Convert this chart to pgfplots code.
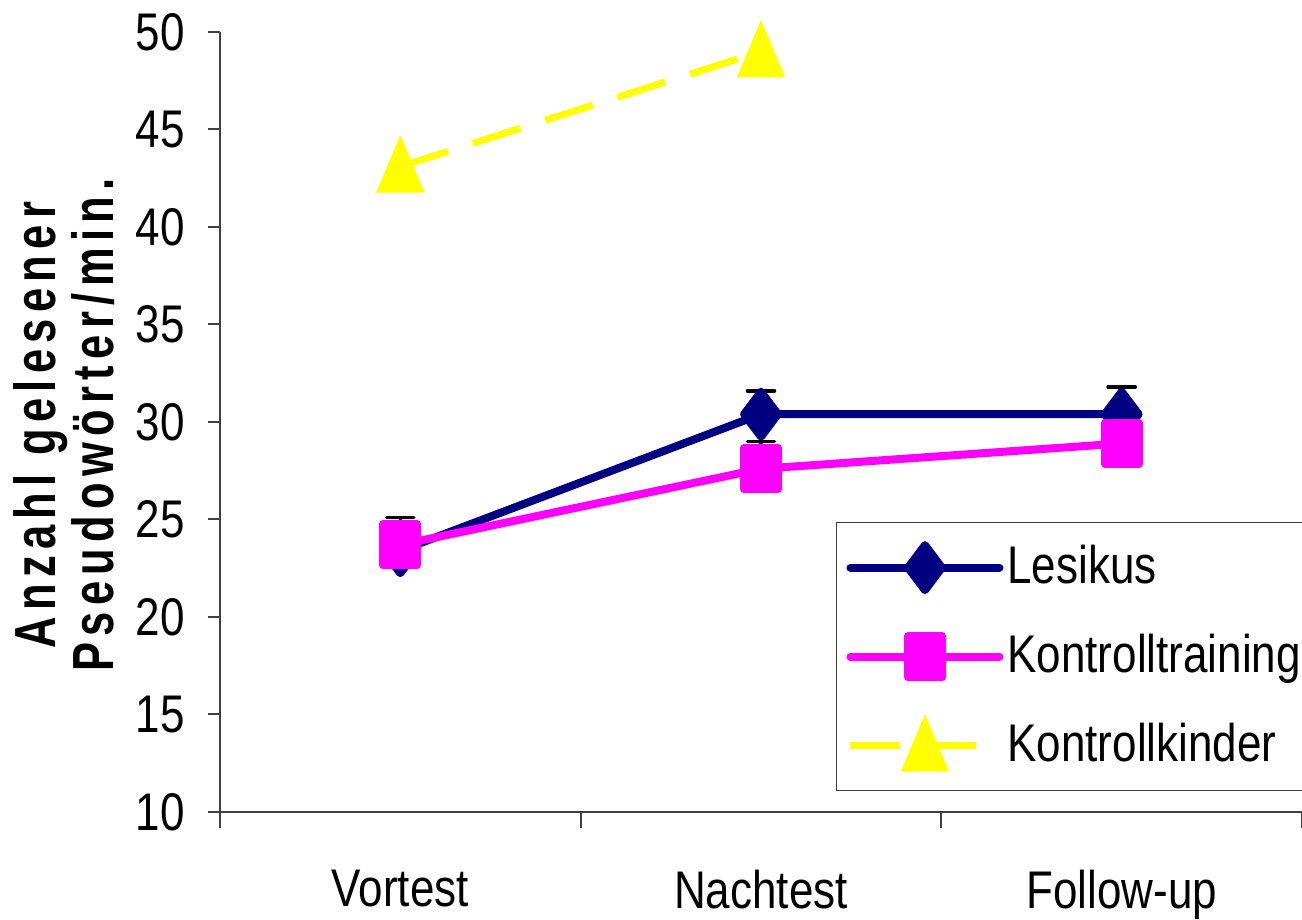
\documentclass[border=0pt]{standalone}
\usepackage{fontspec}
\setmainfont{Liberation Sans}[FakeStretch=0.83]
\newfontfamily\labfont{Liberation Sans}[FakeStretch=0.75,LetterSpace=11]
\usepackage{pgfplots}
\pgfplotsset{compat=1.18}
\definecolor{lesikus}{RGB}{0,0,128}
\definecolor{ktrain}{RGB}{255,0,255}
\definecolor{kkind}{RGB}{255,255,0}
\definecolor{axgray}{RGB}{64,64,64}

\begin{document}
\begin{tikzpicture}
\begin{axis}[
    scale only axis, width=541pt, height=390pt,
    xmin=-0.5, xmax=2.5, ymin=10, ymax=50,
    axis x line*=bottom, axis y line*=left,
    axis line style={axgray, line width=1pt},
    xtick={0,1,2}, xticklabels={Vortest,Nachtest,Follow-up},
    minor xtick={-0.5,0.5,1.5,2.5},
    ytick={10,15,...,50},
    tick align=outside,
    major tick length=6pt, minor tick length=8pt,
    every tick/.style={axgray, line width=1pt},
    major x tick style={draw=none},
    tick label style={font=\fontsize{26.5}{30}\selectfont},
    /pgf/number format/assume math mode=true,
    yticklabel style={inner sep=0pt, anchor=east, xshift=-11.5pt},
    xticklabel style={inner sep=0pt, anchor=north, yshift=-23pt},
    ylabel={Anzahl gelesener\\Pseudowörter/min.},
    ylabel style={at={(axis description cs:-0.097,0.496)}, anchor=south,
        align=center, inner sep=0pt,
        font=\labfont\bfseries\fontsize{29}{29}\selectfont},
    clip=false,
    legend style={at={(axis description cs:0.569,0.372)}, anchor=north west,
        draw=axgray, line width=0.8pt,
        font=\fontsize{26.5}{30}\selectfont,
        inner xsep=5pt, inner ysep=9.5pt, row sep=18.5pt,
        nodes={inner sep=2pt, text height=19pt, text depth=3pt}},
    legend cell align=left,
    legend image code/.code={
        \draw[mark repeat=2,mark phase=2,#1] plot coordinates {(0pt,0pt) (37.25pt,0pt) (74.5pt,0pt)};},
]
\addplot[lesikus, line width=4pt, line join=round, line cap=round, mark=diamond*, mark size=11.25pt,
    mark options={solid, fill=lesikus},
    error bars/.cd, y dir=plus, y explicit, error mark=|,
    error bar style={black, line width=1.6pt},
    error mark options={black, line width=1.8pt, mark size=6.75pt, line cap=round}]
    coordinates {(0,23.4) +- (0,1.0) (1,30.4) +- (0,1.2) (2,30.4) +- (0,1.4)};
\addplot[ktrain, line width=4pt, line join=round, line cap=round, mark=square*, mark size=10.25pt,
    mark options={solid, fill=ktrain, xscale=0.83},
    error bars/.cd, y dir=plus, y explicit, error mark=|,
    error bar style={black, line width=1.6pt},
    error mark options={black, line width=1.8pt, mark size=6.75pt, line cap=round}]
    coordinates {(0,23.7) +- (0,1.4) (1,27.6) +- (0,1.4) (2,28.9) +- (0,0.8)};
\addplot[kkind, line width=3.5pt, dash pattern=on 25pt off 13pt, mark=triangle*, mark size=15pt,
    mark options={solid, fill=kkind, xscale=0.73, yshift=-3.75pt}]
    coordinates {(0,43.1) (1,49.0)};
\legend{Lesikus, Kontrolltraining, Kontrollkinder}
\end{axis}
\pgfresetboundingbox
\path[use as bounding box] (-110pt,-54pt) rectangle (541pt,406pt);
\end{tikzpicture}
\end{document}
